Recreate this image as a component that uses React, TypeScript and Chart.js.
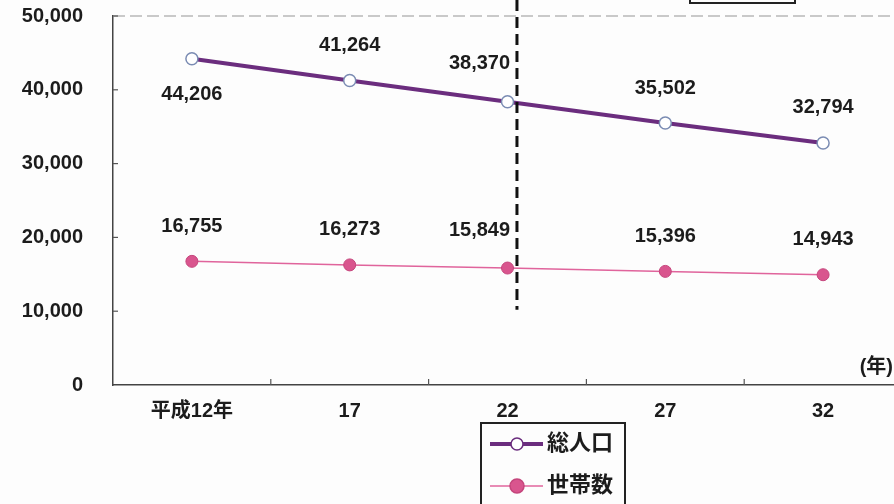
import { useEffect, useRef } from 'react';
import { Chart, registerables } from 'chart.js';

Chart.register(...registerables);

const categories = ['平成12年', '17', '22', '27', '32'];
const totalPopulation = [44206, 41264, 38370, 35502, 32794];
const households = [16755, 16273, 15849, 15396, 14943];
const yTickValues = [0, 10000, 20000, 30000, 40000, 50000];
const seriesNames = ['総人口', '世帯数'];
const xUnitLabel = '(年)';
// label placement per point (style, not data)
const totalLabelPlace = ['below', 'above', 'aboveLeft', 'above', 'above'];
const householdLabelPlace = ['above', 'above', 'aboveLeft', 'above', 'above'];
// divider between actual and projected (category index position, and lower end value)
const dividerIndex = 2.06;
const dividerBottomValue = 10200;

const FONT = '"Liberation Sans", "Noto Sans CJK JP", sans-serif';
const PURPLE = '#6b2d7e';
const PURPLE_MARK = '#7b8cb3';
const PINK = '#e0649c';
const PINK_FILL = '#d9558e';
const PINK_BORDER = '#c5457c';
const TEXT = '#1c1c1c';

const fmt = (v: number) => Number(v).toLocaleString('en-US');

const overlay = {
  id: 'overlay',
  afterDatasetsDraw(chart: any) {
    const { ctx, chartArea, scales } = chart;
    const xs = scales.x;
    const ys = scales.y;
    ctx.save();

    // top dashed border line
    const yTop = ys.getPixelForValue(50000);
    ctx.strokeStyle = '#b8b8b8';
    ctx.lineWidth = 1.5;
    ctx.setLineDash([12, 5]);
    ctx.beginPath();
    ctx.moveTo(chartArea.left, yTop);
    ctx.lineTo(chartArea.right, yTop);
    ctx.stroke();
    ctx.setLineDash([]);

    // inner tick marks
    ctx.strokeStyle = '#555';
    ctx.lineWidth = 1.2;
    yTickValues.forEach((v) => {
      if (v === 0) return;
      const y = ys.getPixelForValue(v);
      ctx.beginPath();
      ctx.moveTo(chartArea.left, y);
      ctx.lineTo(chartArea.left + 5, y);
      ctx.stroke();
    });
    for (let i = 0; i < categories.length - 1; i++) {
      const x = (xs.getPixelForValue(i) + xs.getPixelForValue(i + 1)) / 2;
      ctx.beginPath();
      ctx.moveTo(x, chartArea.bottom);
      ctx.lineTo(x, chartArea.bottom - 6);
      ctx.stroke();
    }

    // divider dashed line
    const i0 = Math.floor(dividerIndex);
    const frac = dividerIndex - i0;
    const dx = xs.getPixelForValue(i0) + frac * (xs.getPixelForValue(i0 + 1) - xs.getPixelForValue(i0));
    ctx.strokeStyle = '#111';
    ctx.lineWidth = 3;
    ctx.setLineDash([11, 6]);
    ctx.beginPath();
    ctx.moveTo(dx, 0);
    ctx.lineTo(dx, ys.getPixelForValue(dividerBottomValue));
    ctx.stroke();
    ctx.setLineDash([]);

    // data labels
    ctx.fillStyle = TEXT;
    ctx.font = `bold 20px ${FONT}`;
    ctx.textAlign = 'center';
    ctx.textBaseline = 'middle';
    const places = [totalLabelPlace, householdLabelPlace];
    chart.data.datasets.forEach((ds: any, di: number) => {
      const meta = chart.getDatasetMeta(di);
      meta.data.forEach((pt: any, i: number) => {
        const place = places[di][i];
        let x = pt.x;
        let y = pt.y - 35;
        if (place === 'below') y = pt.y + 36;
        if (place === 'aboveLeft') {
          x = pt.x - 28;
          y = pt.y - 38;
        }
        ctx.fillText(fmt(ds.data[i]), x, y);
      });
    });

    // unit label
    ctx.textAlign = 'right';
    ctx.font = `bold 20px ${FONT}`;
    ctx.fillText(xUnitLabel, 893, chartArea.bottom - 18);

    // legend
    const lx = 481;
    const ly = 423;
    ctx.strokeStyle = '#222';
    ctx.lineWidth = 2;
    ctx.strokeRect(lx, ly, 144, 100);
    const items = [
      { y: 444, color: PURPLE, width: 4, fill: '#fff', border: PURPLE, r: 6 },
      { y: 486, color: PINK, width: 1.5, fill: PINK_FILL, border: PINK_BORDER, r: 7 },
    ];
    items.forEach((it, k) => {
      ctx.strokeStyle = it.color;
      ctx.lineWidth = it.width;
      ctx.beginPath();
      ctx.moveTo(lx + 9, it.y);
      ctx.lineTo(lx + 62, it.y);
      ctx.stroke();
      ctx.beginPath();
      ctx.arc(lx + 36, it.y, it.r, 0, Math.PI * 2);
      ctx.fillStyle = it.fill;
      ctx.fill();
      ctx.strokeStyle = it.border;
      ctx.lineWidth = 1.5;
      ctx.stroke();
      ctx.fillStyle = TEXT;
      ctx.font = `bold 22px ${FONT}`;
      ctx.textAlign = 'left';
      ctx.fillText(seriesNames[k], lx + 66, it.y);
    });

    // partially visible box at top
    ctx.strokeStyle = '#222';
    ctx.lineWidth = 2;
    ctx.strokeRect(690, -20, 105, 23);

    ctx.restore();
  },
};

export default function App() {
  const ref = useRef<HTMLCanvasElement>(null);
  useEffect(() => {
    document.body.style.margin = '0';
    document.body.style.overflow = 'hidden';
    const chart = new Chart(ref.current as HTMLCanvasElement, {
      type: 'line',
      data: {
        labels: categories,
        datasets: [
          {
            label: seriesNames[0],
            data: totalPopulation,
            borderColor: PURPLE,
            borderWidth: 4,
            pointRadius: 6,
            pointBackgroundColor: '#fff',
            pointBorderColor: PURPLE_MARK,
            pointBorderWidth: 1.5,
            tension: 0,
          },
          {
            label: seriesNames[1],
            data: households,
            borderColor: PINK,
            borderWidth: 1.5,
            pointRadius: 6,
            pointBackgroundColor: PINK_FILL,
            pointBorderColor: PINK_BORDER,
            pointBorderWidth: 1,
            tension: 0,
          },
        ],
      },
      options: {
        responsive: false,
        animation: false,
        layout: { autoPadding: false, padding: { top: 16, right: 8, bottom: 0, left: 0 } },
        plugins: { legend: { display: false }, tooltip: { enabled: false } },
        scales: {
          x: {
            offset: true,
            grid: { display: false, drawTicks: false },
            border: { display: true, color: '#444', width: 1.5 },
            ticks: { padding: 14, color: TEXT, font: { family: FONT, size: 20, weight: 'bold' } },
            afterFit: (s: any) => {
              s.height = 119;
            },
          },
          y: {
            min: 0,
            max: 50000,
            afterBuildTicks: (s: any) => {
              s.ticks = yTickValues.map((v) => ({ value: v }));
            },
            grid: { display: false, drawTicks: false },
            border: { display: true, color: '#444', width: 1.5 },
            ticks: {
              padding: 30,
              color: TEXT,
              font: { family: FONT, size: 20, weight: 'bold' },
              callback: (v: any) => fmt(v),
            },
            afterFit: (s: any) => {
              s.width = 113;
              s.paddingTop = 0;
              s.paddingBottom = 0;
            },
          },
        },
      },
      plugins: [overlay],
    } as any);
    return () => chart.destroy();
  }, []);
  return (
    <div style={{ position: 'fixed', left: 0, top: 0, width: 894, height: 504, overflow: 'hidden', background: '#fdfdfd' }}>
      <canvas ref={ref} width={910} height={504} style={{ display: 'block' }} />
    </div>
  );
}
